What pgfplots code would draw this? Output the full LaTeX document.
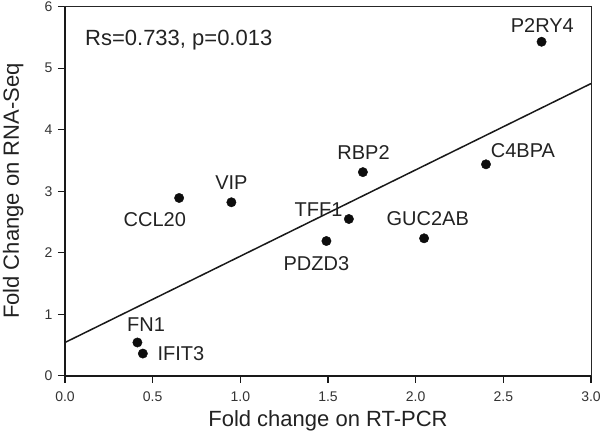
\documentclass[border=0pt]{standalone}
\usepackage{pgfplots}
\pgfplotsset{compat=1.18}
\usepackage{pgfplotstable}
\usepackage{fontspec}
\setmainfont{Liberation Sans}
\definecolor{txt}{HTML}{222222}
\definecolor{tick}{HTML}{333333}
\tikzset{lbl/.style={inner sep=0pt, font=\fontsize{20bp}{24bp}\selectfont, text=txt}}

\pgfplotstableread{
px py
2.718 5.43
1.699 3.31
2.401 3.437
0.949 2.82
0.651 2.89
1.619 2.548
2.048 2.234
1.491 2.19
0.413 0.54
0.444 0.36
}\genes

\begin{document}
\begin{tikzpicture}
\begin{axis}[
  scale only axis,
  width=526bp, height=369bp,
  xmin=0, xmax=3, ymin=0, ymax=6,
  xtick={0,0.5,1,1.5,2,2.5,3},
  xticklabels={0.0,0.5,1.0,1.5,2.0,2.5,3.0},
  ytick={0,1,2,3,4,5,6},
  yticklabels={0,1,2,3,4,5,6},
  tick align=outside,
  tick pos=left,
  major tick length=7bp,
  tick style={line width=1.4bp, color=black!90},
  axis line style={line width=1bp, color=black!85},
  ticklabel style={font=\fontsize{14bp}{16bp}\selectfont, text=tick, inner sep=0pt},
  xticklabel style={yshift=-9.3bp},
  yticklabel style={xshift=-5.3bp},
  every axis x label/.style={at={(axis description cs:0.5,-0.138)}, anchor=base, inner sep=0pt, font=\fontsize{22bp}{26bp}\selectfont, text=txt},
  every axis y label/.style={at={(axis description cs:-0.0875,0.5)}, rotate=90, anchor=base, inner sep=0pt, font=\fontsize{22bp}{26bp}\selectfont, text=txt},
  xlabel={Fold change on RT-PCR},
  ylabel={Fold Change on RNA-Seq},
  clip=false,
]
\draw[line width=1.8bp, color=black!90] (rel axis cs:0,1) -- (rel axis cs:0,0) -- (rel axis cs:1,0);
\addplot[line width=1.5bp, color=black!90] coordinates {(0,0.54) (3,4.75)};
\addplot[only marks, mark=*, mark size=4.7bp, mark options={fill=black!95, draw=black!95}]
  table[x=px, y=py] {\genes};
\node[lbl, anchor=base, xshift=0.8bp, yshift=9.4bp] at (axis cs:2.718,5.43) {P2RY4};
\node[lbl, anchor=base, xshift=0.7bp, yshift=12.3bp] at (axis cs:1.699,3.31) {RBP2};
\node[lbl, anchor=base west, xshift=4.7bp, yshift=7bp] at (axis cs:2.401,3.437) {C4BPA};
\node[lbl, anchor=base, xshift=0bp, yshift=12.7bp] at (axis cs:0.949,2.82) {VIP};
\node[lbl, anchor=base east, xshift=7bp, yshift=-28.4bp] at (axis cs:0.651,2.89) {CCL20};
\node[lbl, anchor=base east, xshift=-6.3bp, yshift=2.3bp] at (axis cs:1.619,2.548) {TFF1};
\node[lbl, anchor=base, xshift=3.7bp, yshift=12.6bp] at (axis cs:2.048,2.234) {GUC2AB};
\node[lbl, anchor=base, xshift=-10bp, yshift=-29bp] at (axis cs:1.491,2.19) {PDZD3};
\node[lbl, anchor=base, xshift=8.7bp, yshift=10.6bp] at (axis cs:0.413,0.54) {FN1};
\node[lbl, anchor=base west, xshift=14.6bp, yshift=-6.7bp] at (axis cs:0.444,0.36) {IFIT3};
\node[anchor=base west, inner sep=0pt, font=\fontsize{22bp}{26bp}\selectfont, text=txt] at (axis cs:0.114,5.377) {Rs=0.733, p=0.013};
\end{axis}
\pgfresetboundingbox
\path[use as bounding box] ([xshift=-65bp,yshift=-67.3bp]current axis.south west) rectangle ([xshift=537bp,yshift=375.7bp]current axis.south west);
\end{tikzpicture}
\end{document}
